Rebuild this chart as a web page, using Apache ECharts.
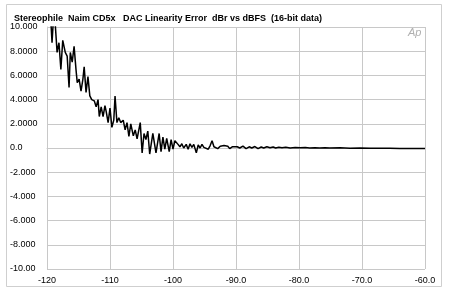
<!DOCTYPE html>
<html><head><meta charset="utf-8">
<script src="https://cdn.jsdelivr.net/npm/echarts@6/dist/echarts.min.js"></script>
<style>html,body{margin:0;padding:0;background:#fff}#c{width:450px;height:296px}</style>
</head><body><div id="c"></div>
<script>
const titleText = 'Stereophile  Naim CD5x   DAC Linearity Error  dBr vs dBFS  (16-bit data)';
const yTickValues = [10, 8, 6, 4, 2, 0, -2, -4, -6, -8, -10];
const yTickLabels = ['10.000', '8.0000', '6.0000', '4.0000', '2.0000', '0.0', '-2.000', '-4.000', '-6.000', '-8.000', '-10.00'];
const xTickValues = [-120, -110, -100, -90, -80, -70, -60];
const xTickLabels = ['-120', '-110', '-100', '-90.0', '-80.0', '-70.0', '-60.0'];
const levelDBFS = [-119.4,-119.2,-119.0,-118.7,-118.4,-118.1,-117.8,-117.5,-117.1,-116.8,-116.5,-116.3,-116.0,-115.7,-115.4,-115.2,-114.9,-114.6,-114.3,-114.1,-113.8,-113.5,-113.2,-112.9,-112.5,-112.2,-111.9,-111.7,-111.4,-111.1,-110.8,-110.6,-110.3,-110.0,-109.7,-109.4,-109.2,-108.9,-108.6,-108.3,-107.9,-107.6,-107.3,-107.0,-106.7,-106.3,-106.0,-105.7,-105.2,-104.9,-104.6,-104.3,-104.0,-103.7,-103.2,-102.7,-102.2,-101.9,-101.6,-101.3,-101.0,-100.6,-100.3,-100.0,-99.7,-99.2,-98.9,-98.6,-98.3,-97.9,-97.6,-97.3,-97.0,-96.7,-96.3,-96.0,-95.7,-95.4,-95.1,-94.8,-94.4,-94.1,-93.8,-93.5,-93.2,-92.9,-92.5,-92.2,-91.9,-91.6,-91.3,-91.0,-90.6,-90.3,-89.8,-89.4,-88.9,-88.4,-87.9,-87.5,-87.0,-86.5,-86.0,-85.6,-85.1,-84.6,-84.1,-83.7,-83.2,-82.7,-82.1,-81.4,-80.6,-79.8,-79.0,-78.3,-77.5,-76.7,-75.9,-75.1,-73.5,-71.9,-70.3,-68.7,-67.1,-65.6,-64.0,-62.4,-60.0];
const errorDBr = [10.6,8.7,10.5,10.3,7.9,8.7,6.5,8.9,7.9,7.6,5.0,7.9,7.1,8.4,6.5,5.4,5.7,4.7,5.7,6.7,4.6,5.9,4.3,4.0,3.9,3.4,4.0,2.6,3.4,2.6,3.5,3.0,2.1,3.3,1.7,2.3,4.3,2.1,2.5,2.1,2.3,1.5,2.1,0.95,2.0,1.0,1.5,0.75,2.1,-0.4,1.2,0.7,1.4,-0.5,1.2,-0.4,1.2,-0.3,0.9,-0.1,0.8,-0.3,0.7,-0.1,0.6,0.3,0.1,0.35,0.0,0.3,-0.1,0.35,0.05,0.3,-0.4,0.25,0.0,0.3,0.05,0.2,-0.1,0.2,0.6,0.1,0.2,-0.05,0.15,0.0,0.2,0.05,0.15,-0.05,0.1,0.05,0.1,0.0,0.15,-0.05,0.1,0.0,0.12,-0.05,0.08,0.0,0.1,0.02,0.08,0.0,0.06,0.02,0.06,0.0,0.05,0.02,0.04,0.0,0.03,0.0,0.02,0.0,0.02,-0.02,0.0,-0.02,-0.03,-0.03,-0.04,-0.04,-0.05];

const chart = echarts.init(document.getElementById('c'), null, {renderer: 'canvas'});
const font = 'Liberation Sans, Arial, sans-serif';
chart.setOption({
  animation: false,
  backgroundColor: '#fff',
  title: {text: titleText, left: 9, top: 9, textStyle: {fontFamily: font, fontSize: 9, fontWeight: 'bold', color: '#000'}},
  graphic: [
    {type: 'rect', shape: {x: 6.5, y: 4.5, width: 435, height: 282}, style: {fill: 'none', stroke: '#cfcfcf', lineWidth: 1}, z: -1},
    {type: 'text', left: 408, top: 27, style: {text: 'Ap', font: 'italic 11px ' + font, fill: '#b0b0b0'}}
  ],
  grid: {left: 47, right: 25, top: 27, bottom: 27},
  xAxis: {
    type: 'value', min: -120, max: -60, interval: 10,
    axisLine: {show: true, lineStyle: {color: '#c8c8c8'}},
    axisTick: {show: false},
    splitLine: {show: true, lineStyle: {color: '#c8c8c8', width: 1}},
    axisLabel: {margin: 7, fontFamily: font, fontSize: 9, color: '#000',
      formatter: v => { const i = xTickValues.indexOf(v); return i >= 0 ? xTickLabels[i] : ''; }}
  },
  yAxis: {
    type: 'value', min: -10, max: 10, interval: 2,
    axisLine: {show: true, lineStyle: {color: '#c8c8c8'}},
    axisTick: {show: false},
    splitLine: {show: true, lineStyle: {color: '#c8c8c8', width: 1}},
    axisLabel: {margin: 37, align: 'left', fontFamily: font, fontSize: 9, color: '#000',
      formatter: v => { const i = yTickValues.indexOf(v); return i >= 0 ? yTickLabels[i] : ''; }}
  },
  series: [{
    type: 'line', clip: true, symbol: 'none',
    lineStyle: {color: '#000', width: 1.5},
    data: levelDBFS.map((x, i) => [x, errorDBr[i]])
  }]
});
</script></body></html>
